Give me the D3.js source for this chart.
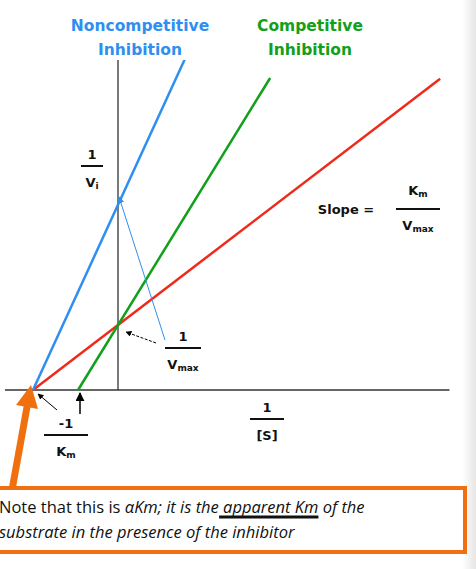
<!DOCTYPE html><html><head><script src="https://cdn.jsdelivr.net/npm/d3@7"></script>
<style>body{margin:0;background:#fff}</style></head><body><svg id="c" width="476" height="569"></svg>
<script>
const seriesNames=["Uninhibited","Competitive","Noncompetitive"];
const seriesColors=["#ee2a1a","#12a01a","#2f8ff0"];
// endpoints in (1/[S], 1/V) units
const uninhibited=[[-1,0],[3.79,4.79]];
const competitive=[[-0.47,0],[1.79,4.8]];
const noncompetitive=[[-1,0],[1.007,5.72]];
const svg=d3.select("#c");
const x=d3.scaleLinear().domain([-1,0]).range([33,118]);
const y=d3.scaleLinear().domain([0,1]).range([390,325]);
svg.append("defs").html(`<marker id="ah" viewBox="0 0 10 10" refX="9" refY="5" markerWidth="6" markerHeight="6" orient="auto"><path d="M0,0L10,5L0,10z" fill="#000"/></marker>
<marker id="bh" viewBox="0 0 10 10" refX="9" refY="5" markerWidth="7" markerHeight="7" orient="auto"><path d="M0,0L10,5L0,10z" fill="#2f8ff0"/></marker>
<marker id="oh" viewBox="0 0 10 10" refX="5" refY="5" markerWidth="4" markerHeight="3.2" orient="auto"><path d="M0,0L10,5L0,10z" fill="#f07010"/></marker>
<linearGradient id="g" x1="0" x2="1"><stop offset="0" stop-color="#fff"/><stop offset="1" stop-color="#e6e6e6"/></linearGradient>`);
svg.append("rect").attr("x",462).attr("y",0).attr("width",14).attr("height",569).attr("fill","url(#g)");
svg.append("line").attr("x1",x(-1.33)).attr("x2",x(3.9)).attr("y1",y(0)).attr("y2",y(0)).attr("stroke","#333").attr("stroke-width",1.3);
svg.append("line").attr("x1",x(0)).attr("x2",x(0)).attr("y1",y(0)).attr("y2",y(5.72)).attr("stroke","#333").attr("stroke-width",1.3);
const line=d3.line().x(d=>x(d[0])).y(d=>y(d[1]));
[uninhibited,competitive,noncompetitive].forEach((s,i)=>svg.append("path").attr("d",line(s)).attr("stroke",seriesColors[i]).attr("stroke-width",2.5).attr("fill","none"));
const F="'DejaVu Sans',Verdana,sans-serif";
function t(tx,xx,yy,col,size,anchor){return svg.append("text").attr("x",xx).attr("y",yy).attr("fill",col).attr("font-family",F).attr("font-weight","bold").attr("font-size",size).attr("text-anchor",anchor||"middle").text(tx);}
svg.append("rect").attr("x",62).attr("y",14).attr("width",156).attr("height",46).attr("fill","#fff");
t("Noncompetitive",140,31,"#2f8ff0",15.5);t("Inhibition",140,55,"#2f8ff0",15.5);
t("Competitive",310,31,"#12a01a",15.5);t("Inhibition",310,55,"#12a01a",15.5);
function sub(el,a,b){el.text(a);el.append("tspan").attr("font-size",9).attr("dy",2).text(b);}
function frac(n,cx,ny,w,da,db){t(n,cx,ny,"#111",13);svg.append("line").attr("x1",cx-w/2).attr("x2",cx+w/2).attr("y1",ny+7).attr("y2",ny+7).attr("stroke","#111").attr("stroke-width",2);sub(t("",cx,ny+28,"#111",13),da,db);}
frac("1",92,159,22,"V","i");
sub(t("",418,195,"#111",13),"K","m");
svg.append("line").attr("x1",396).attr("x2",440).attr("y1",209).attr("y2",209).attr("stroke","#111").attr("stroke-width",2);
sub(t("",418,230,"#111",13),"V","max");
t("Slope =",346,214,"#111",13);
frac("1",183,341,36,"V","max");
frac("-1",66,428,44,"K","m");
frac("1",267,412,34,"[S]","");
svg.append("line").attr("x1",165).attr("y1",340).attr("x2",119).attr("y2",197).attr("stroke","#2f8ff0").attr("stroke-width",1).attr("marker-end","url(#bh)");
svg.append("line").attr("x1",156).attr("y1",343).attr("x2",126).attr("y2",332).attr("stroke","#000").attr("stroke-width",1).attr("stroke-dasharray","3,1.5").attr("marker-end","url(#ah)");
svg.append("line").attr("x1",57).attr("y1",410).attr("x2",38).attr("y2",394).attr("stroke","#000").attr("stroke-width",1).attr("marker-end","url(#ah)");
svg.append("line").attr("x1",80).attr("y1",414).attr("x2",80).attr("y2",393).attr("stroke","#000").attr("stroke-width",1.5).attr("marker-end","url(#ah)");
svg.append("line").attr("x1",12).attr("y1",490).attr("x2",29).attr("y2",396).attr("stroke","#f07010").attr("stroke-width",7).attr("marker-end","url(#oh)");
svg.append("rect").attr("x",-5).attr("y",488).attr("width",470).attr("height",64).attr("fill","#fff").attr("stroke","#f07010").attr("stroke-width",4);
const NF="'Open Sans',Calibri,sans-serif";
const l1=svg.append("text").attr("x",-1).attr("y",513).attr("font-family",NF).attr("font-size",16.5).attr("fill","#111");
l1.append("tspan").text("Note that this is ");
l1.append("tspan").attr("font-style","italic").text("\u03B1Km; it is the ");
const u=l1.append("tspan").attr("font-style","italic").text("apparent Km");
l1.append("tspan").attr("font-style","italic").text(" of the");
const n=u.node(),s0=n.getStartPositionOfChar(0).x,e0=n.getEndPositionOfChar(n.getNumberOfChars()-1).x;
svg.append("line").attr("x1",s0-4).attr("x2",e0).attr("y1",517).attr("y2",517).attr("stroke","#111").attr("stroke-width",3);
svg.append("text").attr("x",-1).attr("y",538).attr("font-family",NF).attr("font-size",16.5).attr("font-style","italic").attr("fill","#111").text("substrate in the presence of the inhibitor");
</script></body></html>
